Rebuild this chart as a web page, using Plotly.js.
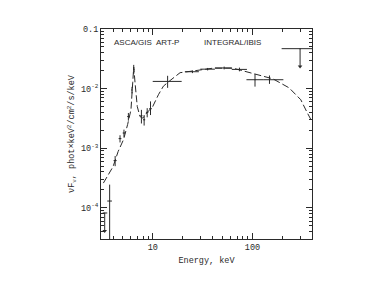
<!DOCTYPE html>
<html>
<head>
<meta charset="utf-8">
<script src="https://cdn.plot.ly/plotly-3.0.1.min.js"></script>
<style>html,body{margin:0;padding:0;background:#fff;}#chart{width:382px;height:287px;}</style>
</head>
<body>
<div id="chart"></div>
<script>
// ASCA/GIS points
const ascaE   = [3.7, 4.2, 4.7, 5.15, 5.7, 6.2, 6.45, 7.7, 8.2, 8.8, 9.5];
const ascaF   = [1.3e-4, 6.2e-4, 1.45e-3, 1.8e-3, 3.4e-3, 9.5e-3, 0.021, 3.5e-3, 3.0e-3, 4.0e-3, 4.6e-3];
const ascaExM = [0.2, 0.15, 0.15, 0.15, 0.15, 0.1, 0.1, 0.2, 0.2, 0.25, 0.3];
const ascaExP = [0.2, 0.15, 0.15, 0.15, 0.15, 0.1, 0.1, 0.2, 0.2, 0.25, 0.3];
const ascaEyP = [1.15e-4, 1.2e-4, 2e-4, 2.5e-4, 5e-4, 1.2e-3, 4e-3, 9e-4, 6e-4, 7e-4, 1.5e-3];
const ascaEyM = [1.25e-4, 1.2e-4, 2e-4, 2.5e-4, 5e-4, 1.2e-3, 3.5e-3, 9e-4, 6e-4, 7e-4, 1e-3];
// ASCA/GIS upper limit
const ascaUlE = [3.3], ascaUlTop = [8.2e-5], ascaUlTip = [4.1e-5], ascaUlExM = [0.15], ascaUlExP = [0.2];
// ART-P point
const artE = [14.1], artF = [0.0132], artExM = [4.1], artExP = [5.4], artEyP = [0.0032], artEyM = [0.0029];
// INTEGRAL/IBIS points
const ibisE   = [25, 35.5, 52, 74, 106, 148];
const ibisF   = [0.0192, 0.0212, 0.0222, 0.021, 0.0141, 0.0141];
const ibisExM = [4, 5.5, 10, 12, 19, 20];
const ibisExP = [4, 6.5, 10, 14, 22, 56];
const ibisEyP = [0.001, 0.001, 0.0012, 0.0015, 0.0035, 0.0025];
const ibisEyM = [0.001, 0.001, 0.0012, 0.0015, 0.0033, 0.0021];
// INTEGRAL/IBIS upper limit
const ibisUlE = [300], ibisUlTop = [0.0468], ibisUlTip = [0.0236], ibisUlExM = [104], ibisUlExP = [95];
// Model curve
const modelE = [3.2, 3.6, 4.0, 4.5, 5.1, 5.6, 6.05, 6.3, 6.45, 6.65, 7.0, 7.45, 7.95, 8.7, 10, 11.4, 12.8, 14.8, 18.8, 25, 40, 64, 102, 160, 233, 305, 355, 395];
const modelF = [2.6e-4, 3.6e-4, 4.9e-4, 8.8e-4, 1.4e-3, 2.5e-3, 4.4e-3, 1.25e-2, 2.3e-2, 1.25e-2, 5e-3, 3.4e-3, 3.2e-3, 3.9e-3, 5e-3, 7.9e-3, 1.1e-2, 1.35e-2, 1.85e-2, 1.97e-2, 2.2e-2, 2.2e-2, 1.8e-2, 1.46e-2, 1.03e-2, 6.5e-3, 3.9e-3, 2.8e-3];
// Labels
const yTickVals = [1e-4, 1e-3, 1e-2, 0.1];
const yTickText = ['10<sup>-4</sup>', '10<sup>-3</sup>', '10<sup>-2</sup>', '0.1'];
const xTickVals = [10, 100];
const xTickText = ['10', '100'];
const instLabels = ['ASCA/GIS', 'ART-P', 'INTEGRAL/IBIS'];
const instLabelE = [3.87, 10.4, 31.4];

const ink = '#2a2a2a';
function errTrace(x, y, exm, exp, eym, eyp) {
  return {
    x: x, y: y, type: 'scatter', mode: 'markers',
    marker: {size: 1, color: ink},
    error_x: {type: 'data', symmetric: false, array: exp, arrayminus: exm, width: 0, thickness: 1, color: ink},
    error_y: {type: 'data', symmetric: false, array: eyp, arrayminus: eym, width: 0, thickness: 1, color: ink},
    showlegend: false, hoverinfo: 'skip'
  };
}
function ulTrace(x, top, tip, exm, exp) {
  const eym = top.map((t, i) => t - tip[i]);
  return errTrace(x, top, exm, exp, eym, top.map(() => 0));
}
function tipTrace(x, tip) {
  return {x: x, y: tip, type: 'scatter', mode: 'markers',
    marker: {symbol: 'triangle-down', size: 4, color: ink}, showlegend: false, hoverinfo: 'skip'};
}

const yMinor = [];
for (let k = -5; k <= -2; k++) for (let m = 2; m <= 9; m++) yMinor.push(m * Math.pow(10, k));
const xMinor = [];
for (let k = 0; k <= 2; k++) for (let m = 2; m <= 9; m++) xMinor.push(m * Math.pow(10, k));

const traces = [
  {x: modelE, y: modelF, type: 'scatter', mode: 'lines',
   line: {color: ink, width: 1, dash: '7px,3px'}, showlegend: false, hoverinfo: 'skip'},
  errTrace(ascaE, ascaF, ascaExM, ascaExP, ascaEyM, ascaEyP),
  ulTrace(ascaUlE, ascaUlTop, ascaUlTip, ascaUlExM, ascaUlExP),
  tipTrace(ascaUlE, ascaUlTip),
  errTrace(artE, artF, artExM, artExP, artEyM, artEyP),
  errTrace(ibisE, ibisF, ibisExM, ibisExP, ibisEyM, ibisEyP),
  ulTrace(ibisUlE, ibisUlTop, ibisUlTip, ibisUlExM, ibisUlExP),
  tipTrace(ibisUlE, ibisUlTip)
];

const axisFont = {family: 'Liberation Mono, monospace', size: 8.5, color: ink};
const layout = {
  width: 382, height: 287,
  margin: {l: 101, r: 70, t: 29, b: 48},
  paper_bgcolor: '#fff', plot_bgcolor: '#fff',
  showlegend: false,
  xaxis: {
    type: 'log', range: [Math.log10(3.03), Math.log10(395)],
    tickmode: 'array', tickvals: xTickVals, ticktext: xTickText,
    ticks: 'inside', ticklen: 6, tickcolor: ink, tickwidth: 1,
    minor: {tickmode: 'array', tickvals: xMinor, ticks: 'inside', ticklen: 3, tickcolor: ink},
    showline: true, linecolor: ink, linewidth: 1, mirror: 'allticks',
    showgrid: false, zeroline: false, tickfont: axisFont,
    title: {text: 'Energy, keV', font: axisFont, standoff: 4}
  },
  yaxis: {
    type: 'log', range: [Math.log10(3e-5), -1],
    tickmode: 'array', tickvals: yTickVals, ticktext: yTickText,
    ticks: 'inside', ticklen: 6, tickcolor: ink, tickwidth: 1,
    minor: {tickmode: 'array', tickvals: yMinor, ticks: 'inside', ticklen: 3, tickcolor: ink},
    showline: true, linecolor: ink, linewidth: 1, mirror: 'allticks',
    showgrid: false, zeroline: false, tickfont: axisFont,
    title: {text: 'νF<sub>ν</sub>, phot×keV<sup>2</sup>/cm<sup>2</sup>/s/keV', font: axisFont, standoff: 4}
  },
  annotations: instLabels.map((t, i) => ({
    x: Math.log10(instLabelE[i]), y: Math.log10(0.0597), xref: 'x', yref: 'y',
    text: t, showarrow: false, xanchor: 'left', yanchor: 'middle',
    font: {family: 'Liberation Sans, Arial, sans-serif', size: 8, color: ink}
  }))
};

Plotly.newPlot('chart', traces, layout, {staticPlot: true, displayModeBar: false});
</script>
</body>
</html>
